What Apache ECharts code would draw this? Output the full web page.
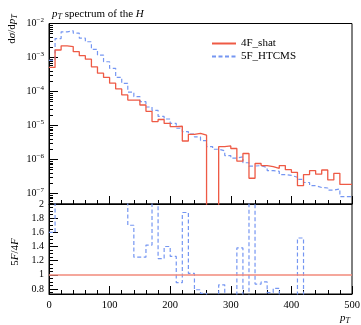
<!DOCTYPE html>
<html>
<head>
<meta charset="utf-8">
<script src="https://cdn.jsdelivr.net/npm/echarts@6/dist/echarts.min.js"></script>
<style>
  html, body { margin: 0; padding: 0; background: #fff; }
  #chart { width: 361px; height: 325px; }
</style>
</head>
<body>
<div id="chart"></div>
<script>
// bin low edges (GeV), width 10
const binLow = [0, 10, 20, 30, 40, 50, 60, 70, 80, 90,
  100, 110, 120, 130, 140, 150, 160, 170, 180, 190,
  200, 210, 220, 230, 240, 250, 260, 270, 280, 290,
  300, 310, 320, 330, 340, 350, 360, 370, 380, 390,
  400, 410, 420, 430, 440, 450, 460, 470, 480, 490];
const binWidth = 10;

const shat4F = [5.1e-4, 1.66e-3, 2.2e-3, 2.1e-3, 1.48e-3, 1.13e-3, 8.9e-4, 5.3e-4, 3.45e-4, 2.6e-4,
  1.75e-4, 1.19e-4, 7.9e-5, 5.6e-5, 5.6e-5, 4.0e-5, 2.6e-5, 1.3e-5, 1.5e-5, 1.15e-5,
  9.3e-6, 9.5e-6, 3.5e-6, 5.5e-6, 5.9e-6, 5.2e-6, 0, 0, 2.4e-6, 2.5e-6,
  2.1e-6, 8.9e-7, 1.5e-6, 2.8e-7, 7.6e-7, 6.6e-7, 6.2e-7, 5.5e-7, 6.6e-7, 5.0e-7,
  4.2e-7, 1.7e-7, 3.6e-7, 4.7e-7, 3.7e-7, 4.9e-7, 2.5e-7, 3.9e-7, 1.85e-7, 1.85e-7];

const htcms5F = [8.2e-4, 3.6e-3, 5.7e-3, 6.1e-3, 5.2e-3, 3.7e-3, 2.9e-3, 1.74e-3, 1.18e-3, 7.5e-4,
  4.8e-4, 2.6e-4, 1.74e-4, 9.6e-5, 7.1e-5, 5.0e-5, 3.5e-5, 2.8e-5, 1.85e-5, 1.55e-5,
  1.15e-5, 8.3e-6, 6.6e-6, 5.6e-6, 4.6e-6, 3.6e-6, 2.4e-6, 2.0e-6, 1.8e-6, 1.3e-6,
  1.1e-6, 1.2e-6, 8.0e-7, 6.4e-7, 6.6e-7, 5.8e-7, 4.7e-7, 4.5e-7, 3.6e-7, 3.4e-7,
  3.0e-7, 2.6e-7, 2.1e-7, 1.7e-7, 1.5e-7, 1.45e-7, 1.25e-7, 1.35e-7, 8.1e-8, 8.1e-8];

const ratio5F4F = [1.6, 2.4, 2.6, 2.9, 3.5, 3.3, 3.3, 3.3, 3.4, 2.9,
  2.7, 2.2, 2.2, 1.70, 1.25, 1.25, 1.42, 2.15, 1.23, 1.40,
  1.26, 0.89, 1.88, 1.02, 0.79, 0.74, 0, 0, 0.86, 0.52,
  0.52, 1.38, 0.53, 2.3, 0.87, 0.90, 0.75, 0.81, 0.55, 0.68,
  0.68, 1.52, 0.58, 0.36, 0.40, 0.30, 0.50, 0.35, 0.44, 0.44];

const xTickStep = 100;
const logTickExps = [-7, -6, -5, -4, -3, -2];
const ratioTicks = [0.8, 1, 1.2, 1.4, 1.6, 1.8, 2];

const SERIF = '"Liberation Serif", "DejaVu Serif", serif';
const RED = '#ee5a45';
const BLUE = '#7596f2';
const LOG_MIN = -7.31, LOG_MAX = -2;
const RATIO_MIN = 0.73, RATIO_MAX = 2;

// minor ticks at k*10^n
const logMinor = [];
for (let n = -8; n <= -3; n++) {
  for (let k = 2; k <= 9; k++) {
    const v = n + Math.log10(k);
    if (v > LOG_MIN && v < LOG_MAX) logMinor.push(v);
  }
}
const ratioMinor = [];
for (let i = 15; i <= 40; i++) {
  if (i % 4 !== 0) ratioMinor.push(i * 0.05);
}

// histogram outline: flat segment per bin, vertical joins between bins
function histPoints(vals, floor) {
  const pts = [];
  vals.forEach((v, i) => {
    const y = floor != null && v <= 0 ? floor : v;
    pts.push([binLow[i], y], [binLow[i] + binWidth, y]);
  });
  return pts;
}

const chart = echarts.init(document.getElementById('chart'), null, { renderer: 'canvas' });

const axisLine = { show: true, lineStyle: { color: '#000', width: 1 } };
const richLabel = {
  b: { fontFamily: SERIF, fontSize: 10, color: '#000' },
  s: { fontFamily: SERIF, fontSize: 7, color: '#000', padding: [0, 0, 7, 0] }
};
const richText = {
  n: { fontFamily: SERIF, fontSize: 11, fontWeight: 'normal', color: '#000' },
  i: { fontFamily: SERIF, fontSize: 11, fontWeight: 'normal', fontStyle: 'italic', color: '#000' },
  sub: { fontFamily: SERIF, fontSize: 8, fontWeight: 'normal', fontStyle: 'italic', color: '#000', padding: [5, 0, 0, 0] }
};

chart.setOption({
  animation: false,
  backgroundColor: '#fff',
  title: {
    left: 47, top: 3,
    text: '{i|p}{sub|T}{n| spectrum of the }{i|H}',
    textStyle: { fontWeight: 'normal', rich: richText }
  },
  legend: {
    data: ['4F_shat', '5F_HTCMS'],
    orient: 'vertical',
    left: 206, top: 33,
    itemWidth: 24, itemHeight: 10, itemGap: 2,
    itemStyle: { opacity: 0 },
    textStyle: { fontFamily: SERIF, fontSize: 11, color: '#000' }
  },
  grid: [
    { left: 49, right: 9, top: 23.5, height: 180.5, show: true, borderColor: '#000', borderWidth: 1, outerBoundsMode: 'none' },
    { left: 49, right: 9, top: 204, height: 90, show: true, borderColor: '#000', borderWidth: 1, outerBoundsMode: 'none' }
  ],
  xAxis: [
    {
      gridIndex: 0, type: 'value', position: 'bottom', min: 0, max: 500, interval: xTickStep,
      axisLine: axisLine, splitLine: { show: false },
      axisTick: { inside: true, length: 8, lineStyle: { color: '#000' } },
      minorTick: { show: true, splitNumber: 5, length: 4, lineStyle: { color: '#000' } },
      axisLabel: { show: false }
    },
    {
      gridIndex: 1, type: 'value', position: 'bottom', min: 0, max: 500, interval: xTickStep,
      axisLine: axisLine, splitLine: { show: false },
      axisTick: { inside: true, length: 8, lineStyle: { color: '#000' } },
      minorTick: { show: true, splitNumber: 5, length: 4, lineStyle: { color: '#000' } },
      axisLabel: { fontFamily: SERIF, fontSize: 10.5, color: '#000', margin: 6 }
    }
  ],
  yAxis: [
    { // data axis for the spectrum
      gridIndex: 0, type: 'log', logBase: 10, position: 'left',
      min: Math.pow(10, LOG_MIN), max: Math.pow(10, LOG_MAX), show: false
    },
    { // decade ticks and labels
      gridIndex: 0, type: 'value', position: 'left', min: LOG_MIN, max: LOG_MAX,
      axisLine: axisLine, splitLine: { show: false },
      axisTick: { inside: true, length: 9, customValues: logTickExps, lineStyle: { color: '#000' } },
      axisLabel: {
        customValues: logTickExps, margin: 5,
        formatter: (v) => '{b|10}{s|\u2212' + Math.abs(Math.round(v)) + '}',
        rich: richLabel
      }
    },
    { // minor log ticks
      gridIndex: 0, type: 'value', position: 'left', min: LOG_MIN, max: LOG_MAX,
      axisLine: { show: false }, splitLine: { show: false },
      axisTick: { inside: true, length: 4, customValues: logMinor, lineStyle: { color: '#000' } },
      axisLabel: { show: false }
    },
    { // ratio
      gridIndex: 1, type: 'value', position: 'left', min: RATIO_MIN, max: RATIO_MAX,
      axisLine: axisLine, splitLine: { show: false },
      axisTick: { inside: true, length: 9, customValues: ratioTicks, lineStyle: { color: '#000' } },
      axisLabel: { customValues: ratioTicks, margin: 5, fontFamily: SERIF, fontSize: 10, color: '#000' }
    },
    {
      gridIndex: 1, type: 'value', position: 'left', min: RATIO_MIN, max: RATIO_MAX,
      axisLine: { show: false }, splitLine: { show: false },
      axisTick: { inside: true, length: 4, customValues: ratioMinor, lineStyle: { color: '#000' } },
      axisLabel: { show: false }
    }
  ],
  series: [
    {
      name: '5F_HTCMS', type: 'line', xAxisIndex: 0, yAxisIndex: 0,
      data: histPoints(htcms5F), symbol: 'none', clip: true,
      itemStyle: { color: BLUE },
      lineStyle: { color: BLUE, width: 1.2, type: [4, 2.5] }
    },
    {
      name: '4F_shat', type: 'line', xAxisIndex: 0, yAxisIndex: 0,
      data: histPoints(shat4F, 1e-12), symbol: 'none', clip: true,
      itemStyle: { color: RED },
      lineStyle: { color: RED, width: 1.3 }
    },
    {
      name: 'ratio', type: 'line', xAxisIndex: 1, yAxisIndex: 3,
      data: histPoints(ratio5F4F), symbol: 'none', clip: true,
      itemStyle: { color: BLUE },
      lineStyle: { color: BLUE, width: 1.2, type: [4, 2.5] },
      markLine: {
        silent: true, symbol: 'none', label: { show: false },
        lineStyle: { color: '#f28a7b', width: 1.6, type: 'solid' },
        data: [{ yAxis: 1 }]
      }
    }
  ],
  graphic: [
    {
      type: 'text', x: 12, y: 29, rotation: Math.PI / 2,
      style: {
        text: '{n|d}{i|σ}{n|/d}{i|p}{sub|T}', rich: richText,
        align: 'center', verticalAlign: 'middle'
      }
    },
    {
      type: 'text', x: 15, y: 252, rotation: Math.PI / 2,
      style: {
        text: '{n|5}{i|F}{n|/4}{i|F}', rich: richText,
        align: 'center', verticalAlign: 'middle'
      }
    },
    {
      type: 'text', x: 345, y: 318,
      style: {
        text: '{i|p}{sub|T}', rich: richText,
        align: 'center', verticalAlign: 'middle'
      }
    }
  ]
});
</script>
</body>
</html>
